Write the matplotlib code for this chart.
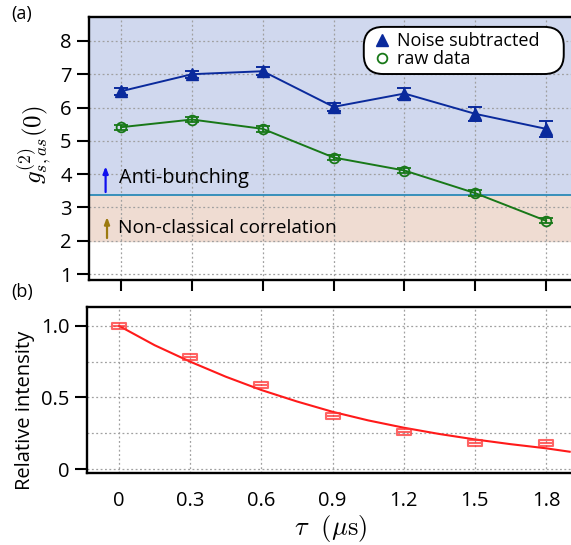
import matplotlib
matplotlib.use('Agg')
from matplotlib import pyplot as plt
from matplotlib.path import Path
from matplotlib.lines import Line2D
from matplotlib.patches import FancyBboxPatch

plt.rcParams['font.family'] = ['Open Sans', 'DejaVu Sans']
plt.rcParams['mathtext.fontset'] = 'cm'

# delay times (us)
tau = [0, 0.3, 0.6, 0.9, 1.2, 1.5, 1.8]

# panel (a): g2 cross correlation
g2_sub = [6.49, 7.00, 7.09, 6.02, 6.42, 5.81, 5.36]
g2_sub_err = [0.10, 0.10, 0.12, 0.12, 0.17, 0.20, 0.25]
g2_raw = [5.41, 5.64, 5.36, 4.50, 4.11, 3.43, 2.60]
g2_raw_err = [0.08, 0.08, 0.08, 0.08, 0.08, 0.08, 0.08]
antibunch_level = 3.38
classical_level = 2.0

# panel (b): relative intensity + fit
rel_int = [1.0, 0.785, 0.586, 0.372, 0.256, 0.184, 0.184]
fit_t = [0, 0.15, 0.3, 0.45, 0.6, 0.75, 0.9, 1.05, 1.2, 1.35, 1.5, 1.65, 1.8, 1.9]
fit_y = [1.0, 0.865, 0.75, 0.645, 0.552, 0.472, 0.400, 0.340, 0.289, 0.245, 0.207, 0.174, 0.145, 0.121]

xticks = [0, 0.3, 0.6, 0.9, 1.2, 1.5, 1.8]
xticklabels = ['0', '0.3', '0.6', '0.9', '1.2', '1.5', '1.8']

blue = '#0a2a9c'
green = '#187818'

fig = plt.figure(figsize=(5.71, 5.45), dpi=100)
ax1 = fig.add_axes([0.156, 0.486, 0.85, 0.483])
ax2 = fig.add_axes([0.152, 0.132, 0.854, 0.305])

xlim = (-0.136, 1.92)
grid_kw = dict(color='#a0a0a0', linestyle=(0, (1.5, 2)), linewidth=0.9)

# --- (a)
ax1.axhspan(antibunch_level, 9, color='#d0d8ee', zorder=0)
ax1.axhspan(classical_level, antibunch_level, color='#efdcd2', zorder=0)
ax1.axhline(antibunch_level, color='#2a8ab8', lw=1.3, zorder=1)
ax1.set_xlim(*xlim)
ax1.set_ylim(0.82, 8.72)
ax1.set_yticks(range(1, 9))
ax1.set_xticks(xticks)
ax1.set_xticklabels([])
ax1.grid(True, **grid_kw)
ax1.set_axisbelow(True)
ax1.errorbar(tau, g2_sub, yerr=g2_sub_err, color=blue, marker='^', ms=9,
             lw=1.4, capsize=5, capthick=1.4, elinewidth=1.4, zorder=4)
ax1.errorbar(tau, g2_raw, yerr=g2_raw_err, color=green, marker='o', ms=7, mfc='none',
             mew=1.3, lw=1.4, capsize=5, capthick=1.3, elinewidth=1.3, zorder=4)
ax1.annotate('', xy=(-0.066, 4.32), xytext=(-0.066, antibunch_level),
             arrowprops=dict(arrowstyle='-|>,head_width=0.15,head_length=0.4', color='#1010ee', lw=1.6))
ax1.annotate('', xy=(-0.06, 2.8), xytext=(-0.06, classical_level),
             arrowprops=dict(arrowstyle='-|>,head_width=0.15,head_length=0.4', color='#9c7a10', lw=1.6))
ax1.text(-0.008, 3.9, 'Anti-bunching', fontsize=14.3, va='center', ha='left')
ax1.text(-0.012, 2.38, 'Non-classical correlation', fontsize=13.8, va='center', ha='left')
ax1.set_ylabel(r'$g^{(2)}_{s,as}(0)$', fontsize=18)
ax1.yaxis.set_label_coords(-0.072, 0.513)

# legend: items without frame, rounded box drawn separately
handles = [Line2D([], [], color=blue, marker='^', ms=9, linestyle='none'),
           Line2D([], [], color=green, marker='o', ms=7, mfc='none', mew=1.3, linestyle='none')]
leg = ax1.legend(handles, ['Noise subtracted', 'raw data'], loc='center left',
                 bbox_to_anchor=(0.585, 0.873), borderaxespad=0, borderpad=0,
                 fontsize=13, frameon=False, handlelength=1.0, handletextpad=0.33,
                 labelspacing=0.0, numpoints=1)
leg.set_zorder(6)
box = FancyBboxPatch((0.566, 0.783), 0.412, 0.179, transform=ax1.transAxes,
                     boxstyle='round,pad=0,rounding_size=0.04', mutation_aspect=1.83,
                     facecolor='white', edgecolor='black', lw=1.4, zorder=5)
ax1.add_patch(box)

ax1.tick_params(axis='both', direction='out', length=9, width=1.5, labelsize=14.5)
ax1.tick_params(axis='x', length=8)
ax1.spines['right'].set_visible(False)
for s in ['top', 'left', 'bottom']:
    ax1.spines[s].set_linewidth(1.7)
ax1.text(-0.16, 1.011, '(a)', transform=ax1.transAxes, fontsize=13, va='center')

# --- (b)
rect = Path([(-1, -0.45), (1, -0.45), (1, 0.45), (-1, 0.45), (-1, -0.45), (-1, 0), (1, 0)],
            [Path.MOVETO, Path.LINETO, Path.LINETO, Path.LINETO, Path.CLOSEPOLY, Path.MOVETO, Path.LINETO])
ax2.plot(fit_t, fit_y, color='#ff1a1a', lw=1.5, zorder=3)
ax2.plot(tau, rel_int, linestyle='none', marker=rect, ms=9.5, mfc='none', mec='#ff3030',
         mew=1.5, alpha=0.75, zorder=4)
ax2.set_xlim(*xlim)
ax2.set_ylim(-0.028, 1.133)
ax2.set_xticks(xticks)
ax2.set_xticklabels(xticklabels)
ax2.set_yticks([0, 0.5, 1.0])
ax2.set_yticklabels(['0', '0.5', '1.0'])
ax2.set_yticks([0.25, 0.75], minor=True)
ax2.grid(True, which='both', **grid_kw)
ax2.set_axisbelow(True)
ax2.tick_params(axis='y', direction='out', length=9, width=1.5, labelsize=14.5)
ax2.tick_params(axis='y', which='minor', length=0)
ax2.tick_params(axis='x', length=0, labelsize=14.5, pad=13)
ax2.spines['right'].set_visible(False)
for s in ['top', 'left', 'bottom']:
    ax2.spines[s].set_linewidth(1.7)
ax2.set_ylabel('Relative intensity', fontsize=14.5)
ax2.yaxis.set_label_coords(-0.107, 0.38)
ax2.set_xlabel(r'$\tau\ \ (\mu\mathrm{s})$', fontsize=19, labelpad=1)
ax2.text(-0.155, 1.09, '(b)', transform=ax2.transAxes, fontsize=13, va='center')

fig.savefig('out.png', dpi=100)
